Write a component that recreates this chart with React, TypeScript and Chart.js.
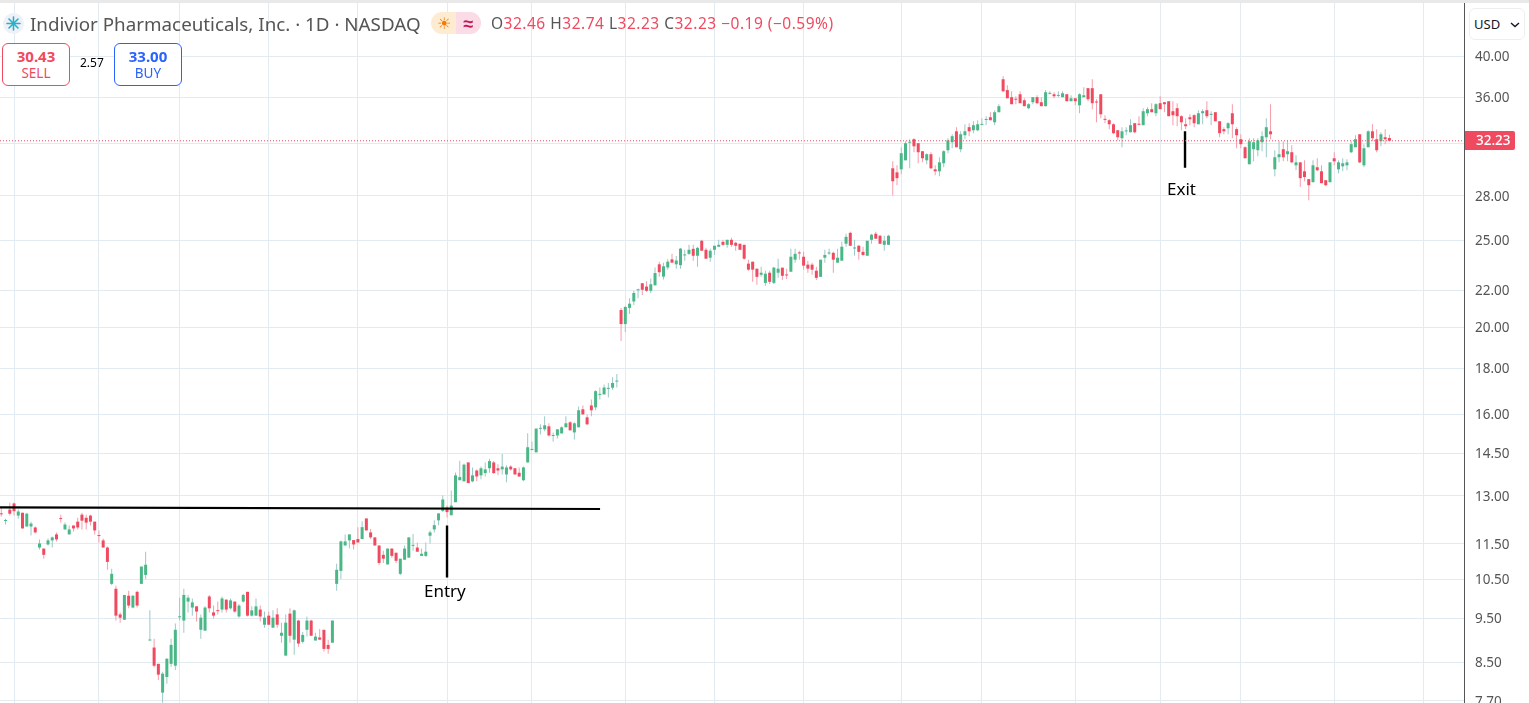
import React, { useEffect, useRef } from "react";
import { Chart, registerables } from "chart.js";

Chart.register(...registerables);

const opens = [
12.41,12.19,12.55,12.75,12.36,12.45,12.02,12.02,11.99,11.39,
11.36,11.48,11.60,11.78,12.26,11.93,11.78,12.05,12.17,12.39,
12.29,12.36,12.17,11.75,11.60,11.39,10.38,10.25,9.60,9.47,
10.07,9.77,10.17,10.38,10.62,8.98,8.82,8.46,7.86,8.18,
8.46,8.42,9.53,9.45,9.92,9.77,9.80,9.23,9.21,10.05,
9.65,9.69,9.72,9.97,9.75,9.92,9.55,9.92,10.17,9.57,
9.57,9.72,9.35,9.57,9.28,9.60,9.09,8.64,9.62,9.00,
9.45,8.95,9.23,9.45,8.98,9.05,9.23,8.88,8.93,10.38,
10.73,11.45,11.60,11.61,11.64,11.64,12.27,11.84,11.69,11.45,
11.18,10.91,11.36,11.24,10.65,11.04,11.10,11.44,11.39,11.15,
11.15,11.74,11.93,12.21,12.51,12.62,12.37,12.79,13.53,13.49,
14.16,13.49,13.87,13.70,13.78,13.95,14.16,13.95,13.91,13.73,
14.01,13.95,13.79,13.53,14.16,14.62,14.53,15.43,15.41,15.53,
15.15,15.17,15.25,15.49,15.69,15.29,15.49,16.22,15.89,16.38,
16.30,16.83,16.85,17.09,17.14,17.41,20.91,20.17,21.02,21.37,
21.99,22.39,22.20,21.96,22.27,23.50,22.77,23.31,23.80,23.50,
23.45,24.04,24.14,24.45,24.02,24.96,24.39,23.90,24.39,24.58,
24.89,24.70,25.02,24.83,24.77,24.70,23.54,23.66,23.24,22.88,
22.41,23.00,22.41,23.00,23.30,22.86,23.06,23.78,24.20,23.96,
23.48,23.48,23.12,22.76,23.90,24.16,24.20,23.60,23.72,24.77,
25.47,24.47,24.64,24.26,24.02,25.02,25.41,25.28,24.70,24.70,
30.04,29.73,29.96,30.66,32.07,32.36,32.03,31.38,30.66,31.14,
29.96,29.81,30.43,31.46,32.11,33.02,31.54,32.69,33.37,33.11,
33.11,33.57,33.99,34.23,33.79,34.67,37.72,36.69,36.03,35.82,
36.30,35.75,35.03,35.57,36.03,35.57,35.21,36.34,36.30,36.15,
36.03,36.30,35.66,35.93,35.29,36.03,36.87,36.87,35.56,36.30,
34.03,33.97,33.62,33.11,32.44,33.01,32.94,33.71,33.62,33.54,
34.58,34.94,34.58,35.48,35.57,35.66,34.76,35.03,34.32,33.62,
34.23,34.41,33.62,34.58,34.85,34.44,34.67,33.88,33.20,33.28,
34.58,33.20,32.36,31.70,30.35,31.54,31.46,32.11,32.52,33.02,
29.96,30.90,31.54,31.14,31.30,30.27,30.50,29.81,29.22,28.99,
30.12,29.81,29.14,28.99,30.82,29.96,30.19,30.27,31.30,31.70,
32.77,30.27,31.70,33.02,32.36,32.19,32.52,32.46];

const highs = [
12.60,12.26,12.77,12.78,12.55,12.45,12.45,12.17,12.02,11.63,
11.36,11.66,11.72,11.84,12.39,12.14,12.05,12.05,12.29,12.45,
12.39,12.39,12.17,11.90,11.66,11.42,10.79,10.33,9.65,10.09,
10.20,10.09,10.20,10.85,11.27,9.70,9.02,8.46,8.29,8.59,
9.02,9.38,10.02,10.25,10.09,10.00,9.80,9.60,9.80,10.09,
9.82,9.92,10.05,9.97,10.00,9.92,9.85,10.12,10.17,9.80,
10.00,9.82,9.67,9.67,9.70,9.75,9.40,9.60,9.75,9.72,
9.47,9.18,9.55,9.47,9.16,9.25,9.23,9.00,9.45,10.93,
11.60,11.78,11.78,11.61,12.00,12.18,12.27,11.94,11.69,11.45,
11.30,11.36,11.36,11.24,11.07,11.45,11.69,11.79,11.54,11.36,
11.54,11.90,12.21,12.43,13.01,12.68,13.18,13.80,14.22,14.12,
14.16,13.98,13.91,14.01,14.16,14.29,14.21,14.09,14.47,14.06,
14.06,13.95,13.98,14.01,15.26,14.94,15.44,15.61,15.93,15.65,
15.29,15.41,15.53,15.93,15.73,15.69,16.34,16.38,16.01,16.63,
17.03,17.15,17.28,17.35,17.60,17.75,21.02,21.13,21.55,21.96,
22.08,22.39,22.51,22.66,23.31,23.66,23.60,23.80,24.14,24.00,
24.50,24.39,24.70,24.70,24.58,25.02,24.51,24.45,24.64,25.02,
25.02,25.02,25.15,24.89,24.77,24.70,23.78,23.66,23.24,23.36,
23.12,23.12,23.36,23.84,23.30,23.24,24.45,24.45,24.33,24.26,
23.72,23.60,23.36,23.78,24.39,24.45,24.26,24.45,24.89,25.41,
25.54,25.02,24.70,24.58,24.96,25.41,25.54,25.35,25.28,25.35,
30.58,30.27,31.70,32.19,32.36,32.44,32.03,31.38,31.22,31.30,
30.27,30.90,31.46,32.44,32.77,33.37,33.02,33.62,33.71,33.88,
33.97,34.14,34.32,34.67,34.85,35.39,38.01,37.15,36.58,36.12,
36.58,35.93,35.48,36.03,36.21,36.03,36.69,36.58,36.49,36.58,
36.58,36.30,36.21,35.93,36.39,36.96,36.87,37.72,35.84,36.30,
34.41,34.05,33.71,33.11,33.37,33.37,34.05,33.71,34.32,35.03,
35.12,35.48,35.48,36.12,35.57,35.66,35.66,35.48,34.41,34.14,
34.49,34.49,34.85,34.94,35.66,34.76,34.67,33.88,33.37,33.79,
35.39,33.37,32.77,31.78,32.44,32.44,32.44,33.02,34.14,35.39,
31.46,32.19,32.19,32.27,31.86,31.06,30.50,30.66,29.22,30.66,
30.82,30.27,29.14,30.50,31.30,30.66,30.82,30.74,32.19,32.69,
32.77,31.95,33.11,33.62,33.20,32.94,33.20,32.74];

const lows = [
12.33,12.08,12.36,12.36,12.26,11.96,12.02,11.75,11.81,11.33,
11.07,11.45,11.39,11.57,12.14,11.93,11.78,11.87,11.93,11.93,
11.93,12.05,11.78,11.54,11.39,10.76,10.35,9.45,9.40,9.47,
9.75,9.75,9.77,10.38,10.51,8.98,8.38,8.12,7.66,8.04,
8.40,8.33,9.45,9.16,9.65,9.57,9.43,9.02,9.21,9.65,
9.50,9.60,9.65,9.65,9.72,9.65,9.52,9.90,9.55,9.55,
9.57,9.43,9.28,9.35,9.28,9.28,8.93,8.64,8.93,8.66,
8.84,8.91,9.07,9.09,8.98,9.00,8.73,8.68,8.93,10.20,
10.51,11.45,11.36,11.33,11.54,11.64,11.90,11.64,11.45,10.90,
10.95,10.91,11.10,10.95,10.62,11.04,11.10,11.30,11.27,11.15,
11.12,11.51,11.84,12.06,12.47,12.30,12.37,12.79,13.53,13.49,
13.43,13.46,13.49,13.56,13.66,13.79,13.75,13.70,13.73,13.46,
13.87,13.73,13.64,13.49,14.16,14.60,14.53,15.21,15.33,15.13,
14.93,15.05,15.25,15.49,15.37,15.01,15.49,16.01,15.57,15.93,
16.18,16.63,16.85,16.72,17.04,17.15,19.31,19.76,20.69,21.18,
21.55,21.72,21.90,21.84,22.27,22.77,22.60,23.17,23.60,23.24,
23.24,23.72,24.07,23.72,23.36,24.33,23.84,23.66,24.07,24.58,
24.64,24.51,24.58,24.33,24.39,23.78,23.12,22.47,22.30,22.76,
22.24,22.35,22.35,22.70,22.58,22.64,23.06,23.60,23.78,23.18,
23.00,22.88,22.58,22.76,23.60,24.07,23.00,23.60,23.72,24.58,
24.64,24.02,23.78,24.02,24.02,24.77,25.09,24.77,24.33,24.70,
28.02,28.77,29.58,30.66,30.04,31.30,30.43,30.50,30.35,29.96,
29.51,29.44,30.12,31.22,31.62,31.70,31.30,32.36,32.61,32.86,
33.02,33.54,33.54,33.97,33.54,34.67,36.49,35.93,35.39,35.39,
35.48,35.21,34.94,35.39,35.39,35.21,35.21,36.30,35.93,36.03,
36.03,35.66,35.66,35.29,34.58,36.03,35.66,34.94,33.79,34.14,
33.71,33.20,32.77,32.27,31.70,32.69,32.94,32.86,33.54,33.54,
34.32,34.67,34.32,34.94,34.67,34.32,33.54,33.45,33.11,33.20,
33.54,33.37,33.62,33.62,34.14,33.54,33.88,32.52,32.77,32.77,
32.44,31.62,31.62,30.82,30.35,30.58,30.98,31.38,30.90,32.36,
29.44,30.50,30.58,30.58,30.43,29.89,28.63,29.06,27.68,28.99,
29.81,28.92,28.70,28.99,30.27,29.66,29.81,29.89,31.22,31.70,
30.43,30.12,31.70,32.19,31.30,31.78,31.95,32.23];

const closes = [
12.40,12.20,12.42,12.50,12.49,11.96,12.42,12.11,11.84,11.51,
11.18,11.60,11.69,11.63,12.25,12.08,11.93,11.96,11.99,12.20,
12.14,12.17,11.90,11.73,11.39,10.98,10.65,9.57,9.52,10.09,
9.82,10.07,9.82,10.85,10.90,9.00,8.42,8.23,8.25,8.57,
8.88,9.23,9.54,10.09,10.02,9.90,9.67,9.52,9.77,9.75,
9.57,9.68,10.00,9.72,9.95,9.67,9.82,10.09,9.57,9.70,
9.80,9.55,9.52,9.35,9.52,9.35,9.16,9.40,9.09,9.70,
8.91,9.11,9.45,9.09,9.07,9.00,8.79,8.79,9.45,10.76,
11.57,11.57,11.78,11.48,11.54,12.00,11.90,11.69,11.45,10.95,
11.07,11.36,11.15,11.01,11.07,11.36,11.69,11.45,11.27,11.21,
11.27,11.84,12.06,12.43,12.88,12.47,12.68,13.70,13.64,14.08,
13.43,13.70,13.66,13.95,13.91,14.21,13.78,13.87,14.01,13.98,
13.91,13.73,13.66,13.98,14.72,14.63,15.44,15.45,15.57,15.17,
15.16,15.41,15.49,15.65,15.37,15.65,16.18,16.01,15.61,16.18,
16.99,16.85,17.15,17.11,17.35,17.43,20.17,21.07,21.25,21.84,
22.02,22.02,21.96,22.33,22.98,23.03,23.38,23.66,23.60,23.73,
24.46,24.06,24.39,24.02,24.51,24.33,23.84,24.33,24.64,24.70,
24.70,25.02,24.70,24.64,24.39,23.84,23.18,23.18,22.76,23.00,
22.94,22.47,23.30,23.24,22.82,22.84,23.96,24.14,24.16,23.42,
23.24,23.18,22.70,23.78,24.07,24.18,23.78,23.90,24.58,25.21,
24.64,24.50,24.26,24.07,24.96,25.35,25.09,24.77,24.96,25.28,
29.06,29.29,31.22,32.03,32.09,31.78,31.30,30.82,31.14,30.04,
29.81,30.50,31.38,32.27,32.61,31.70,32.77,33.02,33.02,33.54,
33.62,33.60,34.02,33.97,34.67,35.21,36.58,35.93,35.39,35.80,
35.48,35.21,35.39,36.03,35.48,35.21,36.49,36.38,36.12,36.19,
36.39,35.66,35.93,35.66,36.30,36.21,35.84,35.48,35.54,34.49,
34.00,33.62,32.86,32.52,33.02,33.03,33.54,32.94,33.58,34.76,
34.94,34.67,35.39,34.94,35.39,34.32,34.41,34.32,33.79,33.45,
34.05,33.71,34.58,34.76,34.32,34.47,33.88,32.86,33.02,33.71,
33.62,32.69,31.95,30.82,32.19,32.11,32.27,32.61,33.37,32.77,
30.90,31.14,30.90,31.38,30.50,30.50,29.29,29.37,28.77,30.27,
29.89,28.92,28.77,30.50,30.58,30.50,30.43,30.50,31.95,32.36,
30.50,31.62,33.02,32.44,31.46,32.77,32.36,32.23];

const yTicks = [40, 36, 32, 28, 25, 22, 20, 18, 16, 14.5, 13, 11.5, 10.5, 9.5, 8.5, 7.7];
const xGridBars = [4, 24, 43, 64, 85, 106, 126, 148, 169, 190, 213, 232, 254, 274, 293, 315, 336];

const xMin = 0.694;
const xMax = 345.57;
const yMin = 7.654;
const yMax = 46.195;

const lastPrice = 32.23;
const trendX = [0.694, 142.05];
const trendY = [12.62, 12.57];
const entryX = [106, 106];
const entryY = [12.05, 10.55];
const exitX = [279.85, 279.85];
const exitY = [33.02, 30.09];

const UP = "#4bb786";
const DOWN = "#ef4a60";
const UP_WICK = "#9cc8c8";
const DOWN_WICK = "#f79cab";
const GRID = "#e3ebf2";
const FONT = '"Noto Sans", sans-serif';

const abs = (s: React.CSSProperties): React.CSSProperties => ({ position: "absolute", whiteSpace: "nowrap", ...s });

function lineDs(label: string, xs: number[], ys: number[], color: string, width: number, dash: number[] = []) {
  return {
    type: "line" as const,
    label,
    data: xs.map((x, i) => ({ x, y: ys[i] })),
    borderColor: color,
    borderWidth: width,
    borderDash: dash,
    pointRadius: 0,
    tension: 0,
    fill: false,
    order: 0,
  };
}

export default function App() {
  const ref = useRef<HTMLCanvasElement | null>(null);

  useEffect(() => {
    document.body.style.margin = "0";
    const up = closes.map((c, i) => c >= opens[i]);
    const bars = (vals: (i: number) => [number, number]) =>
      opens.map((_, i) => ({ x: i + 1, y: vals(i) }));

    const chart = new Chart(ref.current as HTMLCanvasElement, {
      type: "bar",
      data: {
        datasets: [
          lineDs("Last", [xMin, xMax], [lastPrice, lastPrice], DOWN, 1, [1, 2]),
          lineDs("Breakout", trendX, trendY, "#000000", 2.2),
          lineDs("Entry", entryX, entryY, "#000000", 2.4),
          lineDs("Exit", exitX, exitY, "#000000", 2.4),
          {
            label: "Body",
            data: bars((i) => [opens[i], closes[i]]),
            backgroundColor: up.map((u) => (u ? UP : DOWN)),
            grouped: false,
            barPercentage: 1,
            categoryPercent: 1,
            maxBarThickness: 3,
            minBarLength: 1,
            order: 1,
          },
          {
            label: "Wick",
            data: bars((i) => [lows[i], highs[i]]),
            backgroundColor: up.map((u) => (u ? UP_WICK : DOWN_WICK)),
            grouped: false,
            barPercentage: 1,
            categoryPercent: 1,
            maxBarThickness: 1,
            order: 2,
          },
        ] as any,
      },
      options: {
        animation: false,
        responsive: false,
        devicePixelRatio: 1,
        layout: { padding: 0 },
        plugins: { legend: { display: false }, tooltip: { enabled: false } },
        scales: {
          x: {
            type: "linear",
            min: xMin,
            max: xMax,
            offset: false,
            grid: { color: GRID, lineWidth: 1, offset: false, drawTicks: false },
            border: { display: false },
            ticks: { display: false },
            afterBuildTicks: (s: any) => {
              s.ticks = xGridBars.map((value) => ({ value }));
            },
            afterFit: (s: any) => {
              s.height = 0;
              s.paddingLeft = 0;
              s.paddingRight = 0;
            },
          },
          y: {
            type: "logarithmic",
            position: "right",
            min: yMin,
            max: yMax,
            grid: { color: GRID, lineWidth: 1, drawTicks: false },
            border: { display: true, color: "#555555", width: 1 },
            ticks: {
              autoSkip: false,
              padding: 11,
              labelOffset: 1,
              color: "#555555",
              font: { family: FONT, size: 13.5 },
              callback: (v: any) => (Number(v) === 32 ? "" : Number(v).toFixed(2)),
            },
            afterBuildTicks: (s: any) => {
              s.ticks = yTicks.map((value) => ({ value }));
            },
            afterFit: (s: any) => {
              s.width = 65;
              s.paddingTop = 0;
              s.paddingBottom = 0;
            },
          },
        },
      } as any,
    });
    return () => chart.destroy();
  }, []);

  return (
    <div style={{ position: "fixed", left: 0, top: 0, width: 1529, height: 703, overflow: "hidden", background: "#fff", fontFamily: FONT }}>
      <canvas ref={ref} width={1529} height={703} style={{ position: "absolute", left: 0, top: 0, width: 1529, height: 703 }} />
      <div style={abs({ left: 0, top: 0, width: 1529, height: 3, background: "#e9e9e9" })} />

      <div style={abs({ left: 3, top: 13, width: 21, height: 21, borderRadius: 11, background: "#eef1f8" })}>
        <svg width="21" height="21" viewBox="0 0 21 21">
          <g stroke="#27b0c8" strokeWidth="1.6" strokeLinecap="round">
            <line x1="10.5" y1="4" x2="10.5" y2="17" />
            <line x1="4" y1="10.5" x2="17" y2="10.5" />
            <line x1="6" y1="6" x2="15" y2="15" />
            <line x1="15" y1="6" x2="6" y2="15" />
          </g>
        </svg>
      </div>
      <div style={abs({ left: 30, top: 11, fontSize: 18.8, lineHeight: "26px", color: "#555" })}>Indivior Pharmaceuticals, Inc. · 1D · NASDAQ</div>
      <div style={abs({ left: 431, top: 12, width: 25, height: 22, background: "#fdecd2", borderRadius: "11px 0 0 11px", color: "#f57c00", fontSize: 16, lineHeight: "22px", textAlign: "center" })}>☀</div>
      <div style={abs({ left: 456, top: 12, width: 25, height: 22, background: "#fbdbe6", borderRadius: "0 11px 11px 0", color: "#c2185b", fontSize: 18, fontWeight: 700, lineHeight: "22px", textAlign: "center" })}>≈</div>
      <div style={abs({ left: 491, top: 13, fontSize: 15.5, letterSpacing: 0.5, lineHeight: "20px", color: DOWN })}>
        <span style={{ color: "#555" }}>O</span>32.46 <span style={{ color: "#555" }}>H</span>32.74 <span style={{ color: "#555" }}>L</span>32.23 <span style={{ color: "#555" }}>C</span>32.23 −0.19 (−0.59%)
      </div>

      <div style={abs({ left: 2, top: 43, width: 66, height: 41, border: `1px solid ${DOWN}`, borderRadius: 6, background: "#fff", color: DOWN, textAlign: "center" })}>
        <div style={{ fontSize: 15, fontWeight: 700, lineHeight: "16px", marginTop: 4 }}>30.43</div>
        <div style={{ fontSize: 13.5, lineHeight: "16px", marginTop: 1 }}>SELL</div>
      </div>
      <div style={abs({ left: 80, top: 55, fontSize: 12, lineHeight: "16px", color: "#000" })}>2.57</div>
      <div style={abs({ left: 114, top: 43, width: 66, height: 41, border: "1px solid #2962ff", borderRadius: 6, background: "#fff", color: "#2962ff", textAlign: "center" })}>
        <div style={{ fontSize: 15, fontWeight: 700, lineHeight: "16px", marginTop: 4 }}>33.00</div>
        <div style={{ fontSize: 13.5, lineHeight: "16px", marginTop: 1 }}>BUY</div>
      </div>

      <div style={abs({ left: 1469, top: 8, width: 54, height: 30, border: "1px solid #eeeeee", borderRadius: 6, background: "#fff" })}>
        <div style={abs({ left: 4, top: 6, fontSize: 13, lineHeight: "18px", color: "#131722" })}>USD</div>
        <svg width="10" height="6" viewBox="0 0 10 6" style={{ position: "absolute", left: 40, top: 13 }}>
          <path d="M1 1 L5 4.5 L9 1" fill="none" stroke="#131722" strokeWidth="1.4" />
        </svg>
      </div>

      <div style={abs({ left: 1465, top: 131, width: 50, height: 19, background: DOWN, borderRadius: "0 2px 2px 0", color: "#fff", fontSize: 13.5, fontWeight: 500, lineHeight: "19px", paddingLeft: 11, boxSizing: "border-box" })}>32.23</div>

      <div style={abs({ left: 424, top: 579, fontSize: 17, lineHeight: "24px", color: "#000" })}>Entry</div>
      <div style={abs({ left: 1167, top: 177, fontSize: 17, lineHeight: "24px", color: "#000" })}>Exit</div>
    </div>
  );
}
